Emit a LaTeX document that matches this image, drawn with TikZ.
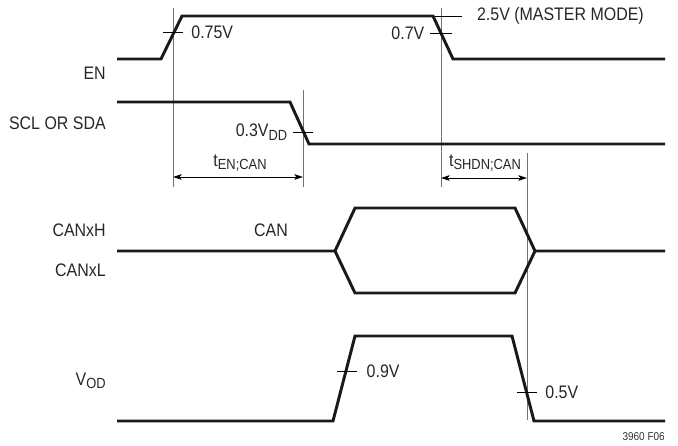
\documentclass[tikz,border=0pt]{standalone}
\usepackage{fontspec}
\setmainfont{Liberation Sans}[FakeStretch=0.88]
\usepackage{tikz}
\usetikzlibrary{arrows.meta}
\usetikzlibrary{positioning}
\newcommand{\lowsub}[1]{\raisebox{-0.35ex}{\fontsize{11}{12}\selectfont #1}}
\begin{document}
\begin{tikzpicture}[x=0.75pt, y=-0.75pt,
    sig/.style={line width=2.2pt, line join=miter, color=black!90},
    guide/.style={line width=0.6pt, color=black!55},
    tk/.style={line width=0.6pt, color=black},
    dim/.style={tk, {Stealth[length=6.5pt, width=4.2pt, inset=1.5pt]}-{Stealth[length=6.5pt, width=4.2pt, inset=1.5pt]}},
    lbl/.style={font=\fontsize{13.6}{15}\selectfont, inner sep=0pt, color=black!85}]
	\useasboundingbox (0, 0) rectangle (678, 446);

	% signal names
	\node[lbl, anchor=east] (en) at (106, 73) {EN};
	\node[lbl, anchor=east] (scl) at (106, 123) {SCL OR SDA};
	\node[lbl, anchor=east] (canh) at (106, 230) {CANxH};
	\node[lbl, anchor=east] (canl) at (106, 270) {CANxL};
	\node[lbl, anchor=east] (vod) at (106, 381) {V\lowsub{OD}};
	\node[lbl] (can) at (271, 230) {CAN};

	% guides
	\draw[guide] (173, 8) -- (173, 187);
	\draw[guide] (441, 8) -- (441, 187);
	\draw[guide] (303, 90) -- (303, 187);
	\draw[guide] (527, 153) -- (527, 420);

	% waveforms
	\draw[sig] (117, 59) -- (161, 59) -- (182, 16) -- (433, 16) -- (453, 59) -- (665, 59);
	\draw[sig] (117, 102) -- (290, 102) -- (309, 144) -- (665, 144);
	\draw[sig] (117, 251) -- (335, 251) -- (355, 208) -- (515, 208) -- (535, 251) -- (665, 251);
	\draw[sig] (335, 251) -- (355, 293) -- (515, 293) -- (535, 251);
	\draw[sig] (117, 421) -- (333, 421) -- (355, 336) -- (512, 336) -- (534, 421) -- (665, 421);

	% thresholds
	\draw[tk] (163, 32) -- (183, 32) node[lbl, anchor=west, xshift=6] (v075) {0.75V};
	\draw[tk] (435, 16) -- (462, 16) node[lbl, anchor=west, xshift=11] (v25) {2.5V (MASTER MODE)};
	\draw[tk] (452, 33) -- (430, 33) node[lbl, anchor=east, xshift=-4] (v07) {0.7V};
	\draw[tk] (313, 132) -- (293, 132) node[lbl, anchor=east, xshift=-4] (v03) {0.3V\lowsub{DD}};
	\draw[tk] (337, 371) -- (357, 371) node[lbl, anchor=west, xshift=7] (v09) {0.9V};
	\draw[tk] (517, 392) -- (537, 392) node[lbl, anchor=west, xshift=6] (v05) {0.5V};

	% timing
	\draw[dim] (173, 177) -- (303, 177);
	\node[lbl] (ten) at (240, 163) {t\lowsub{EN;CAN}};
	\draw[dim] (441, 178) -- (527, 178);
	\node[lbl] (tshdn) at (485, 163) {t\lowsub{SHDN;CAN}};

	\node[anchor=east, inner sep=0pt, font=\fontsize{8.5}{9}\selectfont, color=black!80] (fig) at (665, 437) {3960 F06};
\end{tikzpicture}
\end{document}
